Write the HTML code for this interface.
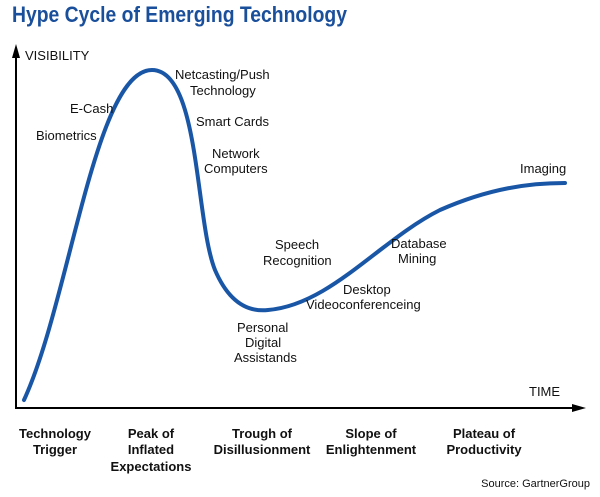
<!DOCTYPE html>
<html><head><style>
body{margin:0;background:#fff;}
svg text{font-family:"Liberation Sans",sans-serif;}
</style></head><body>
<svg width="600" height="492" viewBox="0 0 600 492" xmlns="http://www.w3.org/2000/svg">
<text x="12" y="22" font-size="22" font-weight="bold" fill="#1a4f9c" font-family="Liberation Sans Narrow, Liberation Sans, sans-serif" textLength="335" lengthAdjust="spacingAndGlyphs">Hype Cycle of Emerging Technology</text>
<line x1="16" y1="54" x2="16" y2="408" stroke="#000" stroke-width="2"/>
<polygon points="16,44 12,58 20,58" fill="#000"/>
<line x1="15" y1="408" x2="574" y2="408" stroke="#000" stroke-width="2"/>
<polygon points="586,408 572,404 572,412" fill="#000"/>
<text x="25" y="60" font-size="13" fill="#111">VISIBILITY</text>
<text x="529" y="396" font-size="13" fill="#111">TIME</text>
<path d="M24,400 C70,300 95,70 152,70 C200,70 195,220 215,270 C230,305 250,312 268,310 C330,305 380,240 440,210 C490,188 530,183 565,183" fill="none" stroke="#1a56a6" stroke-width="4" stroke-linecap="round"/>
<g font-size="13" fill="#111">
<text x="175" y="79">Netcasting/Push</text>
<text x="190" y="95">Technology</text>
<text x="70" y="113">E-Cash</text>
<text x="196" y="126">Smart Cards</text>
<text x="36" y="140">Biometrics</text>
<text x="212" y="158">Network</text>
<text x="204" y="173">Computers</text>
<text x="520" y="173">Imaging</text>
<text x="275" y="249">Speech</text>
<text x="263" y="265">Recognition</text>
<text x="391" y="248">Database</text>
<text x="398" y="263">Mining</text>
<text x="343" y="294">Desktop</text>
<text x="306" y="309">Videoconferenceing</text>
<text x="237" y="332">Personal</text>
<text x="245" y="347">Digital</text>
<text x="234" y="362">Assistands</text>
</g>
<g font-size="13" font-weight="bold" fill="#111" text-anchor="middle">
<text x="55" y="438">Technology</text>
<text x="55" y="454">Trigger</text>
<text x="151" y="438">Peak of</text>
<text x="151" y="454">Inflated</text>
<text x="151" y="471">Expectations</text>
<text x="262" y="438">Trough of</text>
<text x="262" y="454">Disillusionment</text>
<text x="371" y="438">Slope of</text>
<text x="371" y="454">Enlightenment</text>
<text x="484" y="438">Plateau of</text>
<text x="484" y="454">Productivity</text>
</g>
<text x="590" y="487" font-size="11" fill="#111" text-anchor="end">Source: GartnerGroup</text>
</svg>
</body></html>
